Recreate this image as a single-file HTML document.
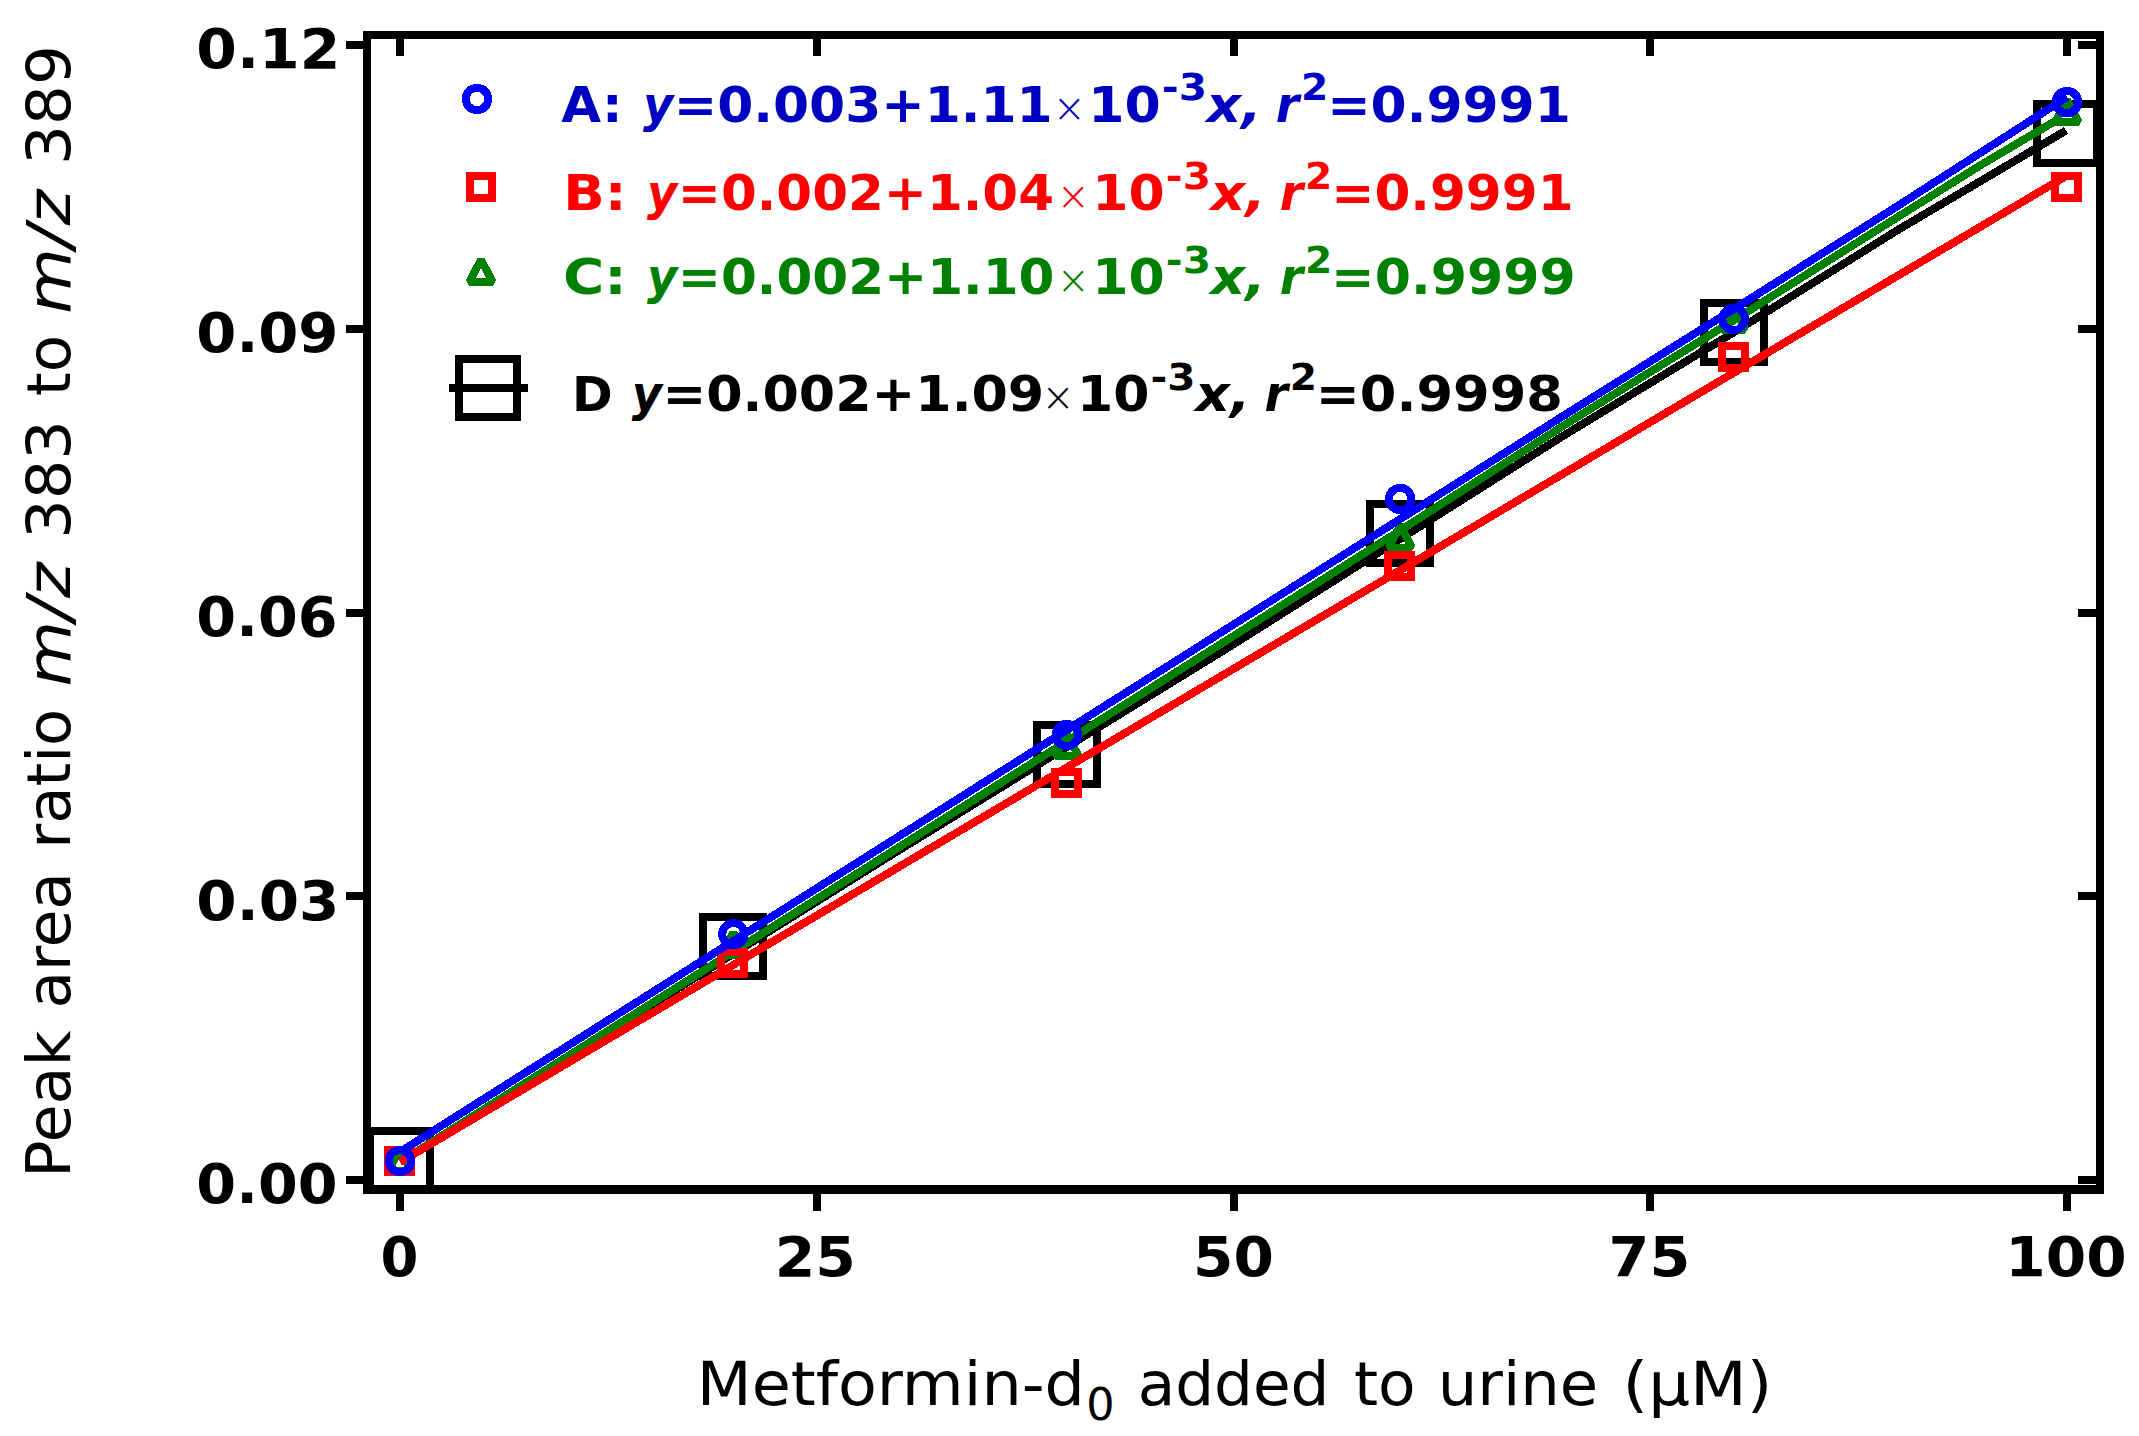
<!DOCTYPE html>
<html lang="en"><head><meta charset="utf-8"><title>Metformin calibration curves</title>
<style>html,body{margin:0;padding:0;background:#fff;}svg{display:block;}text{font-family:"DejaVu Sans","Liberation Sans",sans-serif;white-space:pre;}</style></head><body>
<svg width="2139" height="1436" viewBox="0 0 2139 1436">
<rect x="0" y="0" width="2139" height="1436" fill="#ffffff"/>
<g shape-rendering="crispEdges">
<polyline points="400.0,1162.0 900.0,849.6 1233.5,644.3 1400.0,539.0 1567.0,433.5 1733.6,332.5 1900.0,228.6 1980.0,181.5 2066.0,130.5" fill="none" stroke="#000000" stroke-width="8" stroke-linejoin="round"/>
<rect x="370.0" y="1131.0" width="60" height="59" fill="none" stroke="#000000" stroke-width="8"/>
<rect x="703.4" y="916.9" width="60" height="59" fill="none" stroke="#000000" stroke-width="8"/>
<rect x="1036.8" y="724.9" width="60" height="59" fill="none" stroke="#000000" stroke-width="8"/>
<rect x="1370.2" y="503.9" width="60" height="59" fill="none" stroke="#000000" stroke-width="8"/>
<rect x="1703.6" y="303.0" width="60" height="59" fill="none" stroke="#000000" stroke-width="8"/>
<rect x="2037.0" y="103.5" width="60" height="59" fill="none" stroke="#000000" stroke-width="8"/>
<polyline points="400.0,1162.1 1233.5,636.0 1400.0,530.6 1567.0,423.4 1733.6,320.4 1900.0,215.6 1980.0,165.5 2062.0,117.0" fill="none" stroke="#008000" stroke-width="8" stroke-linejoin="round"/>
<polygon points="400.0,1148.8 411.6,1171.0 388.4,1171.0" fill="none" stroke="#008000" stroke-width="8" stroke-linejoin="bevel"/>
<polygon points="733.4,932.5 745.0,954.7 721.8,954.7" fill="none" stroke="#008000" stroke-width="8" stroke-linejoin="bevel"/>
<polygon points="1066.8,733.8 1078.4,756.0 1055.2,756.0" fill="none" stroke="#008000" stroke-width="8" stroke-linejoin="bevel"/>
<polygon points="1400.2,525.3 1411.8,547.5 1388.6,547.5" fill="none" stroke="#008000" stroke-width="8" stroke-linejoin="bevel"/>
<polygon points="1733.6,307.3 1745.2,329.5 1722.0,329.5" fill="none" stroke="#008000" stroke-width="8" stroke-linejoin="bevel"/>
<polygon points="2067.0,99.8 2078.6,122.0 2055.4,122.0" fill="none" stroke="#008000" stroke-width="8" stroke-linejoin="bevel"/>
<polyline points="400.0,1162.2 2067.0,175.5" fill="none" stroke="#ff0000" stroke-width="8" stroke-linejoin="round"/>
<rect x="387.9" y="1150.0" width="23" height="22" fill="none" stroke="#ff0000" stroke-width="8"/>
<rect x="721.3" y="952.0" width="23" height="22" fill="none" stroke="#ff0000" stroke-width="8"/>
<rect x="1054.7" y="772.0" width="23" height="22" fill="none" stroke="#ff0000" stroke-width="8"/>
<rect x="1388.1" y="555.0" width="23" height="22" fill="none" stroke="#ff0000" stroke-width="8"/>
<rect x="1721.5" y="346.0" width="23" height="22" fill="none" stroke="#ff0000" stroke-width="8"/>
<rect x="2054.9" y="176.0" width="23" height="22" fill="none" stroke="#ff0000" stroke-width="8"/>
<polyline points="400.0,1151.9 1567.0,413.5 1733.6,309.2 1900.0,204.5 2067.0,97.1" fill="none" stroke="#0000ff" stroke-width="8" stroke-linejoin="round"/>
<circle cx="400.0" cy="1161.0" r="11.2" fill="none" stroke="#0000ff" stroke-width="8"/>
<circle cx="733.4" cy="934.2" r="11.2" fill="none" stroke="#0000ff" stroke-width="8"/>
<circle cx="1066.8" cy="735.0" r="11.2" fill="none" stroke="#0000ff" stroke-width="8"/>
<circle cx="1400.2" cy="499.0" r="11.2" fill="none" stroke="#0000ff" stroke-width="8"/>
<circle cx="1733.6" cy="319.0" r="11.2" fill="none" stroke="#0000ff" stroke-width="8"/>
<circle cx="2067.0" cy="102.0" r="11.2" fill="none" stroke="#0000ff" stroke-width="8"/>
</g>
<g shape-rendering="crispEdges" fill="#000">
<rect x="363" y="31" width="8" height="1163"/>
<rect x="2096" y="31" width="8" height="1163"/>
<rect x="363" y="31" width="1741" height="8"/>
<rect x="363" y="1185" width="1741" height="8.7"/>
<rect x="396.0" y="1193" width="8" height="18"/>
<rect x="396.0" y="39" width="8" height="17"/>
<rect x="812.8" y="1193" width="8" height="18"/>
<rect x="812.8" y="39" width="8" height="17"/>
<rect x="1229.5" y="1193" width="8" height="18"/>
<rect x="1229.5" y="39" width="8" height="17"/>
<rect x="1646.2" y="1193" width="8" height="18"/>
<rect x="1646.2" y="39" width="8" height="17"/>
<rect x="2063.0" y="1193" width="8" height="18"/>
<rect x="2063.0" y="39" width="8" height="17"/>
<rect x="346" y="1176.0" width="17" height="8"/>
<rect x="2078" y="1176.0" width="18" height="8"/>
<rect x="346" y="892.2" width="17" height="8"/>
<rect x="2078" y="892.2" width="18" height="8"/>
<rect x="346" y="608.5" width="17" height="8"/>
<rect x="2078" y="608.5" width="18" height="8"/>
<rect x="346" y="324.8" width="17" height="8"/>
<rect x="2078" y="324.8" width="18" height="8"/>
<rect x="346" y="41.0" width="17" height="8"/>
<rect x="2078" y="41.0" width="18" height="8"/>
</g>
<text transform="translate(196.32,1203.30) scale(1.0409,1)" font-size="55" fill="#000" font-weight="bold">0.00</text>
<text transform="translate(196.28,919.55) scale(1.0547,1)" font-size="55" fill="#000" font-weight="bold">0.03</text>
<text transform="translate(196.32,635.80) scale(1.0409,1)" font-size="55" fill="#000" font-weight="bold">0.06</text>
<text transform="translate(196.30,352.05) scale(1.0478,1)" font-size="55" fill="#000" font-weight="bold">0.09</text>
<text transform="translate(196.26,68.30) scale(1.0618,1)" font-size="55" fill="#000" font-weight="bold">0.12</text>
<text transform="translate(380.45,1276.00) scale(0.9906,1)" font-size="55" fill="#000" font-weight="bold">0</text>
<text transform="translate(774.74,1276.00) scale(1.0620,1)" font-size="55" fill="#000" font-weight="bold">25</text>
<text transform="translate(1193.07,1276.00) scale(1.0560,1)" font-size="55" fill="#000" font-weight="bold">50</text>
<text transform="translate(1608.53,1276.00) scale(1.0676,1)" font-size="55" fill="#000" font-weight="bold">75</text>
<text transform="translate(2005.24,1276.00) scale(1.0580,1)" font-size="55" fill="#000" font-weight="bold">100</text>
<text transform="translate(696.84,1405.00) scale(1.0416,1)" font-size="61" fill="#000">Metformin-d</text>
<text transform="translate(1086.31,1419.70) scale(0.9912,1)" font-size="45" fill="#000">0</text>
<text transform="translate(1137.63,1405.00) scale(1.0041,1)" font-size="61" fill="#000">added</text>
<text transform="translate(1353.94,1405.00) scale(1.0074,1)" font-size="61" fill="#000">to</text>
<text transform="translate(1437.73,1405.00) scale(1.0229,1)" font-size="61" fill="#000">urine</text>
<text transform="translate(1622.56,1405.00) scale(1.0777,1)" font-size="61" fill="#000">(µM)</text>
<text transform="translate(70.10,1177.71) rotate(-90) scale(1.0161,1)" font-size="61" fill="#000">Peak</text>
<text transform="translate(70.10,1008.57) rotate(-90) scale(1.0032,1)" font-size="61" fill="#000">area</text>
<text transform="translate(70.10,848.74) rotate(-90) scale(0.9949,1)" font-size="61" fill="#000">ratio</text>
<text transform="translate(70.10,686.82) rotate(-90) scale(1.1102,1)" font-size="61" fill="#000" font-style="italic">m/z</text>
<text transform="translate(70.10,538.78) rotate(-90) scale(1.0174,1)" font-size="61" fill="#000">383</text>
<text transform="translate(70.10,396.26) rotate(-90) scale(1.0021,1)" font-size="61" fill="#000">to</text>
<text transform="translate(70.10,313.92) rotate(-90) scale(1.1102,1)" font-size="61" fill="#000" font-style="italic">m/z</text>
<text transform="translate(70.10,164.92) rotate(-90) scale(1.0287,1)" font-size="61" fill="#000">389</text>
<text transform="translate(561.20,121.70) scale(1.0404,1)" font-size="49.5" fill="#0000c0" font-weight="bold">A:</text>
<text transform="translate(643.00,121.70) scale(0.9403,1)" font-size="49.5" fill="#0000c0" font-weight="bold" font-style="italic">y</text>
<text transform="translate(673.74,121.70) scale(1.0483,1)" font-size="49.5" fill="#0000c0" font-weight="bold">=0.003+1.11</text>
<text transform="translate(1052.82,121.70) scale(0.9882,1)" font-size="40" fill="#0000c0" font-weight="200">×</text>
<text transform="translate(1088.31,121.70) scale(1.0518,1)" font-size="49.5" fill="#0000c0" font-weight="bold">10</text>
<text transform="translate(1161.80,100.30) scale(1.0967,1)" font-size="37" fill="#0000c0" font-weight="bold">-3</text>
<text transform="translate(1206.52,121.70) scale(1.0866,1)" font-size="49.5" fill="#0000c0" font-weight="bold" font-style="italic">x,</text>
<text transform="translate(1275.76,121.70) scale(0.9583,1)" font-size="49.5" fill="#0000c0" font-weight="bold" font-style="italic">r</text>
<text transform="translate(1300.94,100.30) scale(1.0582,1)" font-size="37" fill="#0000c0" font-weight="bold">2</text>
<text transform="translate(1327.14,121.70) scale(1.0483,1)" font-size="49.5" fill="#0000c0" font-weight="bold">=0.9991</text>
<text transform="translate(563.35,210.40) scale(1.0997,1)" font-size="49.5" fill="#ff0000" font-weight="bold">B:</text>
<text transform="translate(647.00,210.40) scale(0.9403,1)" font-size="49.5" fill="#ff0000" font-weight="bold" font-style="italic">y</text>
<text transform="translate(677.77,210.40) scale(1.0404,1)" font-size="49.5" fill="#ff0000" font-weight="bold">=0.002+1.04</text>
<text transform="translate(1056.82,210.40) scale(0.9882,1)" font-size="40" fill="#ff0000" font-weight="200">×</text>
<text transform="translate(1092.31,210.40) scale(1.0518,1)" font-size="49.5" fill="#ff0000" font-weight="bold">10</text>
<text transform="translate(1165.80,189.00) scale(1.0967,1)" font-size="37" fill="#ff0000" font-weight="bold">-3</text>
<text transform="translate(1210.52,210.40) scale(1.0866,1)" font-size="49.5" fill="#ff0000" font-weight="bold" font-style="italic">x,</text>
<text transform="translate(1279.76,210.40) scale(0.9583,1)" font-size="49.5" fill="#ff0000" font-weight="bold" font-style="italic">r</text>
<text transform="translate(1304.94,189.00) scale(1.0582,1)" font-size="37" fill="#ff0000" font-weight="bold">2</text>
<text transform="translate(1331.16,210.40) scale(1.0430,1)" font-size="49.5" fill="#ff0000" font-weight="bold">=0.9991</text>
<text transform="translate(563.07,294.30) scale(1.1355,1)" font-size="49.5" fill="#008000" font-weight="bold">C:</text>
<text transform="translate(647.00,294.30) scale(0.9403,1)" font-size="49.5" fill="#008000" font-weight="bold" font-style="italic">y</text>
<text transform="translate(677.77,294.30) scale(1.0418,1)" font-size="49.5" fill="#008000" font-weight="bold">=0.002+1.10</text>
<text transform="translate(1056.82,294.30) scale(0.9882,1)" font-size="40" fill="#008000" font-weight="200">×</text>
<text transform="translate(1092.31,294.30) scale(1.0518,1)" font-size="49.5" fill="#008000" font-weight="bold">10</text>
<text transform="translate(1165.80,272.90) scale(1.0967,1)" font-size="37" fill="#008000" font-weight="bold">-3</text>
<text transform="translate(1210.52,294.30) scale(1.0866,1)" font-size="49.5" fill="#008000" font-weight="bold" font-style="italic">x,</text>
<text transform="translate(1279.76,294.30) scale(0.9583,1)" font-size="49.5" fill="#008000" font-weight="bold" font-style="italic">r</text>
<text transform="translate(1304.94,272.90) scale(1.0582,1)" font-size="37" fill="#008000" font-weight="bold">2</text>
<text transform="translate(1331.12,294.30) scale(1.0519,1)" font-size="49.5" fill="#008000" font-weight="bold">=0.9999</text>
<text transform="translate(572.07,411.30) scale(1.0330,1)" font-size="47.5" fill="#000000" font-weight="bold">D</text>
<text transform="translate(631.70,411.30) scale(0.9403,1)" font-size="49.5" fill="#000000" font-weight="bold" font-style="italic">y</text>
<text transform="translate(662.40,411.30) scale(1.0562,1)" font-size="49.5" fill="#000000" font-weight="bold">=0.002+1.09</text>
<text transform="translate(1041.52,411.30) scale(0.9882,1)" font-size="40" fill="#000000" font-weight="200">×</text>
<text transform="translate(1077.01,411.30) scale(1.0518,1)" font-size="49.5" fill="#000000" font-weight="bold">10</text>
<text transform="translate(1150.50,389.90) scale(1.0967,1)" font-size="37" fill="#000000" font-weight="bold">-3</text>
<text transform="translate(1195.22,411.30) scale(1.0866,1)" font-size="49.5" fill="#000000" font-weight="bold" font-style="italic">x,</text>
<text transform="translate(1264.46,411.30) scale(0.9583,1)" font-size="49.5" fill="#000000" font-weight="bold" font-style="italic">r</text>
<text transform="translate(1289.64,389.90) scale(1.0582,1)" font-size="37" fill="#000000" font-weight="bold">2</text>
<text transform="translate(1315.77,411.30) scale(1.0630,1)" font-size="49.5" fill="#000000" font-weight="bold">=0.9998</text>
<g shape-rendering="crispEdges">
<circle cx="477.0" cy="99.0" r="11.2" fill="none" stroke="#0000ff" stroke-width="8"/>
<rect x="470.0" y="176.0" width="22" height="22" fill="none" stroke="#ff0000" stroke-width="8"/>
<polygon points="481.0,259.8 492.6,282.0 469.4,282.0" fill="none" stroke="#008000" stroke-width="8" stroke-linejoin="bevel"/>
<rect x="458.8" y="358.8" width="58.5" height="58.5" fill="none" stroke="#000000" stroke-width="8"/>
<rect x="449" y="384" width="79" height="8" fill="#000"/>
</g>
</svg></body></html>
